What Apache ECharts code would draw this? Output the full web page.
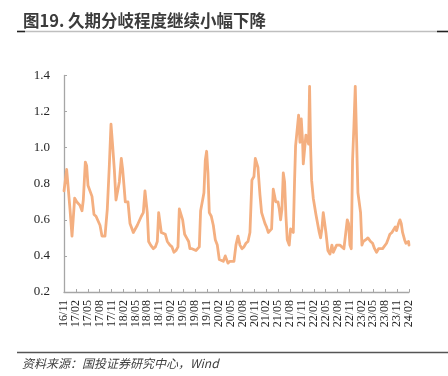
<!DOCTYPE html>
<html>
<head>
<meta charset="utf-8">
<script src="https://cdn.jsdelivr.net/npm/echarts@6/dist/echarts.min.js"></script>
<style>
  html, body { margin: 0; padding: 0; background: #fff; }
  #chart { width: 448px; height: 376px; }
</style>
</head>
<body>
<div id="chart"></div>
<script>
// 标题与来源
const titleText = '图19. 久期分岐程度继续小幅下降';
const sourceText = '资料来源：国投证券研究中心，Wind';

// x 轴刻度标签（每季度一个，从 16/11 开始）
const tickLabels = [
  '16/11', '17/02', '17/05', '17/08', '17/11', '18/02', '18/05', '18/08', '18/11',
  '19/02', '19/05', '19/08', '19/11', '20/02', '20/05', '20/08', '20/11',
  '21/02', '21/05', '21/08', '21/11', '22/02', '22/05', '22/08', '22/11',
  '23/02', '23/05', '23/08', '23/11', '24/02'
];

// 采样位置：距 2016/11 的月数
const months = [
  0.00, 0.67, 0.84, 1.51, 2.02, 2.18, 2.69, 3.19, 4.03, 4.54, 4.87, 5.38, 5.71, 6.05, 6.55,
  7.06, 7.56, 8.07, 8.57, 9.08, 9.58, 10.34, 10.59, 10.92, 11.43, 11.85, 12.27, 12.69, 13.11,
  13.61, 13.95, 14.45, 14.79, 15.13, 15.46, 16.13, 16.64, 16.97, 17.48, 17.98, 18.49, 18.99,
  19.50, 20.00, 20.42, 20.67, 21.00, 21.34, 21.85, 22.52, 23.03, 23.53, 23.87, 24.20, 24.54,
  25.04, 25.55, 26.05, 26.72, 27.23, 27.73, 28.24, 28.74, 29.08, 29.41, 29.92, 30.42, 30.92,
  31.43, 31.76, 32.27, 32.77, 33.28, 33.78, 34.12, 34.45, 34.96, 35.29, 35.63, 35.97, 36.30,
  36.64, 37.14, 37.65, 38.15, 38.66, 39.16, 39.66, 40.17, 40.67, 41.00, 41.34, 41.85, 42.35,
  42.86, 43.36, 43.87, 44.37, 44.87, 45.38, 45.88, 46.39, 46.89, 47.39, 47.90, 48.24, 48.57,
  48.91, 49.41, 49.83, 50.25, 50.67, 51.09, 51.51, 51.93, 52.35, 52.77, 53.10, 53.40, 53.95,
  54.29, 54.62, 54.96, 55.30, 55.63, 55.97, 56.30, 56.80, 57.14, 57.48, 57.82, 58.15, 58.40,
  58.82, 59.16, 59.50, 59.83, 60.17, 60.34, 60.67, 61.00, 61.34, 61.68, 61.93, 62.18, 62.44,
  62.86, 63.19, 63.53, 64.03, 64.37, 64.71, 65.04, 65.38, 65.71, 66.05, 66.55, 67.06, 67.56,
  67.90, 68.40, 68.74, 69.08, 69.58, 70.08, 70.59, 71.09, 71.43, 71.76, 72.10, 72.44, 72.77,
  73.11, 73.45, 73.78, 74.12, 74.45, 74.79, 75.13, 75.46, 75.80, 76.13, 76.64, 76.97, 77.31,
  77.82, 78.32, 78.82, 79.33, 79.83, 80.34, 80.84, 81.34, 81.85, 82.18, 82.69, 83.03, 83.53,
  83.87, 84.37, 84.71, 85.04, 85.38, 85.88, 86.22, 86.55, 86.89, 87.00
];

// 久期分歧度
const dispersion = [
  0.76, 0.88, 0.87, 0.66, 0.51, 0.52, 0.72, 0.70, 0.68, 0.65, 0.71, 0.92, 0.90, 0.79, 0.78,
  0.73, 0.63, 0.62, 0.62, 0.57, 0.51, 0.51, 0.52, 0.66, 0.90, 1.13, 1.01, 0.88, 0.71,
  0.72, 0.81, 0.94, 0.88, 0.79, 0.70, 0.70, 0.58, 0.56, 0.53, 0.54, 0.57, 0.58,
  0.62, 0.64, 0.76, 0.75, 0.64, 0.48, 0.46, 0.44, 0.45, 0.48, 0.64, 0.64, 0.53,
  0.53, 0.52, 0.48, 0.46, 0.45, 0.42, 0.43, 0.45, 0.66, 0.67, 0.60, 0.52, 0.50,
  0.48, 0.44, 0.44, 0.44, 0.43, 0.42, 0.45, 0.65, 0.71, 0.75, 0.93, 0.98, 0.86,
  0.64, 0.62, 0.57, 0.49, 0.46, 0.38, 0.38, 0.37, 0.40, 0.39, 0.36, 0.37, 0.38,
  0.37, 0.46, 0.51, 0.46, 0.44, 0.45, 0.47, 0.48, 0.53, 0.82, 0.84, 0.94, 0.95,
  0.89, 0.74, 0.64, 0.63, 0.58, 0.56, 0.53, 0.53, 0.55, 0.77, 0.76, 0.70, 0.70,
  0.66, 0.60, 0.66, 0.86, 0.81, 0.62, 0.49, 0.46, 0.55, 0.55, 0.53, 0.82, 1.01,
  1.02, 1.18, 1.03, 1.16, 1.03, 0.91, 0.91, 1.07, 1.05, 1.02, 1.34, 1.01, 0.82,
  0.72, 0.73, 0.63, 0.64, 0.53, 0.50, 0.55, 0.64, 0.64, 0.53, 0.43, 0.41, 0.46,
  0.42, 0.42, 0.46, 0.46, 0.46, 0.45, 0.44, 0.45, 0.60, 0.58, 0.46, 0.44, 0.93,
  1.12, 1.34, 1.05, 0.75, 0.74, 0.64, 0.46, 0.48, 0.47, 0.49, 0.50, 0.51, 0.48,
  0.47, 0.44, 0.42, 0.44, 0.43, 0.44, 0.45, 0.47, 0.50, 0.52, 0.53, 0.54, 0.56,
  0.54, 0.58, 0.60, 0.58, 0.53, 0.49, 0.47, 0.48, 0.48, 0.46
];

const chart = echarts.init(document.getElementById('chart'), null, { renderer: 'canvas' });

const lineColor = '#F4AF80';
const axisColor = '#A6A6A6';
const textColor = '#262626';
const serif = 'serif';
const cjk = 'Noto Sans CJK SC, Noto Sans, sans-serif';

const option = {
  backgroundColor: '#ffffff',
  animation: false,
  textStyle: { fontFamily: serif },
  title: [
    {
      text: titleText,
      left: 18,
      top: 7,
      textStyle: { fontFamily: cjk, fontSize: 16.5, fontWeight: 'bold', color: '#3b3b3b' }
    },
    {
      text: sourceText,
      left: 17,
      top: 352,
      textStyle: { fontFamily: cjk, fontSize: 12, fontWeight: 'normal', fontStyle: 'italic', color: '#404040' }
    }
  ],
  graphic: [
    // 标题下方分隔线
    { type: 'line', shape: { x1: 17, y1: 31.5, x2: 448, y2: 31.5 }, style: { stroke: '#BFBFBF', lineWidth: 1.5 }, silent: true },
    { type: 'line', shape: { x1: 17, y1: 31.5, x2: 25, y2: 31.5 }, style: { stroke: '#222', lineWidth: 1.5 }, silent: true },
    { type: 'line', shape: { x1: 437, y1: 31.5, x2: 448, y2: 31.5 }, style: { stroke: '#222', lineWidth: 1.5 }, silent: true },
    // 来源上方分隔线
    { type: 'line', shape: { x1: 17, y1: 352.5, x2: 448, y2: 352.5 }, style: { stroke: '#555', lineWidth: 1.3 }, silent: true }
  ],
  grid: { left: 64, right: 39, top: 75.5, bottom: 84, containLabel: false },
  xAxis: {
    type: 'value',
    min: 0,
    max: 87,
    interval: 3,
    axisLine: { show: true, lineStyle: { color: axisColor, width: 1.3 } },
    axisTick: { show: true, inside: true, length: 3, lineStyle: { color: axisColor } },
    splitLine: { show: false },
    axisLabel: {
      rotate: 90,
      margin: 8,
      fontFamily: serif,
      fontSize: 12,
      color: textColor,
      formatter: (v) => tickLabels[Math.round(v / 3)] || ''
    }
  },
  yAxis: {
    type: 'value',
    min: 0.2,
    max: 1.4,
    interval: 0.2,
    axisLine: { show: true, lineStyle: { color: axisColor, width: 1.3 } },
    axisTick: { show: true, inside: true, length: 3, lineStyle: { color: axisColor } },
    splitLine: { show: false },
    axisLabel: {
      margin: 14,
      fontFamily: serif,
      fontSize: 13,
      color: textColor,
      formatter: (v) => v.toFixed(1)
    }
  },
  series: [
    {
      type: 'line',
      data: months.map((m, i) => [m, dispersion[i]]),
      showSymbol: false,
      smooth: false,
      lineStyle: { color: lineColor, width: 2.8, join: 'round', cap: 'round' }
    }
  ]
};

chart.setOption(option);
</script>
</body>
</html>
